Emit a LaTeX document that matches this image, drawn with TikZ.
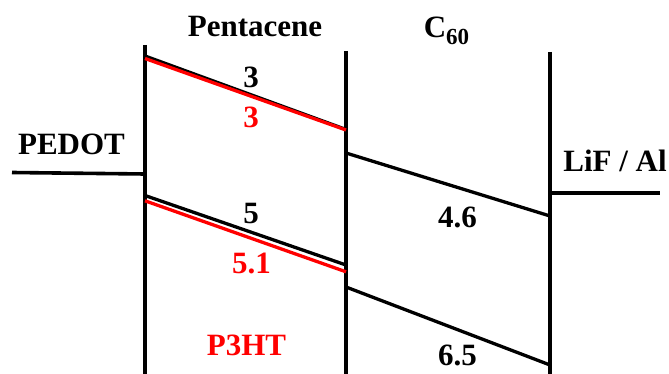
\documentclass[tikz,border=0pt]{standalone}
\usepackage{fontspec}
\setmainfont{Liberation Serif}
\definecolor{lvred}{RGB}{255,0,0}
\begin{document}
\begin{tikzpicture}[x=1pt,y=-1pt,
  lbl/.style={font=\fontsize{31}{37}\selectfont\bfseries, inner sep=0pt, anchor=base},
  wall/.style={line width=3.6pt, black},
  level/.style={line width=3.3pt, black},
  rlevel/.style={line width=3.3pt, lvred}]
\useasboundingbox (0,0) rectangle (669,374);
% walls
\coordinate (w1t) at (145,45);  \coordinate (w1b) at (145,374);
\coordinate (w2t) at (346,51);  \coordinate (w2b) at (346,374);
\coordinate (w3t) at (550,52);  \coordinate (w3b) at (550,374);
\draw[wall] (w1t) -- (w1b);
\draw[wall] (w2t) -- (w2b);
\draw[wall] (w3t) -- (w3b);
% electrodes
\coordinate (pl) at (12,172.5); \coordinate (pr) at (145,174);
\coordinate (ll) at (550,193);  \coordinate (lr) at (660,193);
\draw[wall] (pl) -- (pr);
\draw[wall] (ll) -- (lr);
% pentacene / P3HT levels
\coordinate (a1) at (145,56);  \coordinate (a2) at (346,129.5);
\coordinate (b1) at (145,58.5);  \coordinate (b2) at (346,130);
\draw[level] (a1) -- (a2);
\draw[rlevel] (b1) -- (b2);
\coordinate (c1) at (145,195.5); \coordinate (c2) at (346,265);
\coordinate (d1) at (145,200.8); \coordinate (d2) at (346,271.8);
\draw[level] (c1) -- (c2);
\draw[rlevel] (d1) -- (d2);
% C60 levels
\coordinate (e1) at (346,153); \coordinate (e2) at (550,216);
\coordinate (f1) at (346,287); \coordinate (f2) at (550,365);
\draw[level] (e1) -- (e2);
\draw[level] (f1) -- (f2);
% labels
\node[lbl] (tpen) at (255,37) {Pentacene};
\node[lbl] (tc60) at (446.5,38) {C\raisebox{-7pt}{\fontsize{23}{27}\selectfont 60}};
\node[lbl] (tped) at (71.5,155) {PEDOT};
\node[lbl] (tlif) at (615,172) {LiF / Al};
\node[lbl] (n3a) at (251,88) {3};
\node[lbl, text=lvred] (n3b) at (251,128) {3};
\node[lbl] (n5) at (251,223) {5};
\node[lbl, text=lvred] (n51) at (251.5,273) {5.1};
\node[lbl, text=lvred] (np3) at (246.5,355) {P3HT};
\node[lbl] (n46) at (457.5,227) {4.6};
\node[lbl] (n65) at (457.5,365) {6.5};
\end{tikzpicture}
\end{document}
